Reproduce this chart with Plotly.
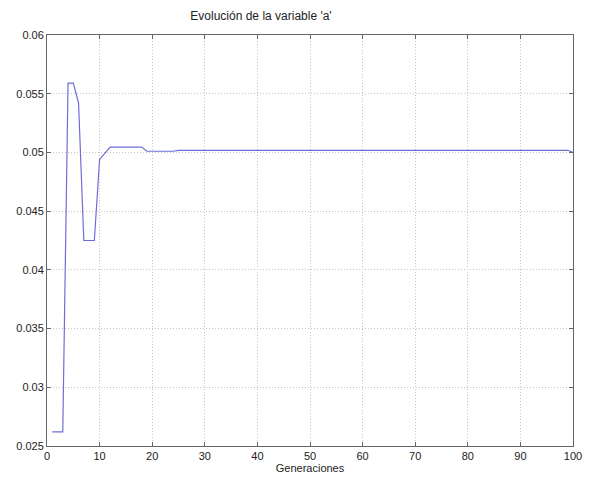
import plotly.graph_objects as go

generaciones = list(range(1, 101))
valores_a = ([0.0262, 0.0262, 0.0262, 0.0559, 0.0559, 0.0542, 0.0425, 0.0425, 0.0425,
              0.0494, 0.0499, 0.05045, 0.05045, 0.05045, 0.05045, 0.05045, 0.05045, 0.05045,
              0.0501, 0.0501, 0.0501, 0.0501, 0.0501, 0.0501]
             + [0.05018] * 75 + [0.0500])

x_ticks = [0, 10, 20, 30, 40, 50, 60, 70, 80, 90, 100]
y_ticks = [0.025, 0.03, 0.035, 0.04, 0.045, 0.05, 0.055, 0.06]
y_tick_labels = ["0.025", "0.03", "0.035", "0.04", "0.045", "0.05", "0.055", "0.06"]

titulo = "Evolución de la variable 'a'"
etiqueta_x = "Generaciones"

fig = go.Figure()
fig.add_trace(go.Scatter(x=generaciones, y=valores_a, mode="lines",
                         line=dict(color="#6e6ed8", width=1.2), showlegend=False))

font = dict(family="Liberation Sans, Arial, sans-serif", size=11, color="#222222")
axis_common = dict(showline=True, linecolor="#666666", linewidth=1, mirror="ticks",
                   ticks="inside", ticklen=4, tickcolor="#666666",
                   showgrid=True, gridcolor="#c4c4c4", griddash="1px,2px", gridwidth=1,
                   zeroline=False, tickfont=font, automargin=False)

fig.update_layout(
    width=589, height=479,
    margin=dict(l=47, r=16, t=35, b=33, autoexpand=False),
    paper_bgcolor="white", plot_bgcolor="white",
    font=font,
    title=dict(text=titulo, x=261 / 589, xanchor="center",
               y=1 - 16 / 479, yanchor="middle", yref="container", automargin=False,
               font=dict(family="Liberation Sans, Arial, sans-serif", size=12, color="#222222")),
    xaxis=dict(range=[0, 100], tickvals=x_ticks, ticktext=[str(t) for t in x_ticks],
               title=dict(text=etiqueta_x, standoff=0, font=font), **axis_common),
    yaxis=dict(range=[0.025, 0.06], tickvals=y_ticks, ticktext=y_tick_labels,
               **axis_common),
)

fig.write_html("out.html", config={"displayModeBar": False},
               post_script="document.body.style.margin='0';")
